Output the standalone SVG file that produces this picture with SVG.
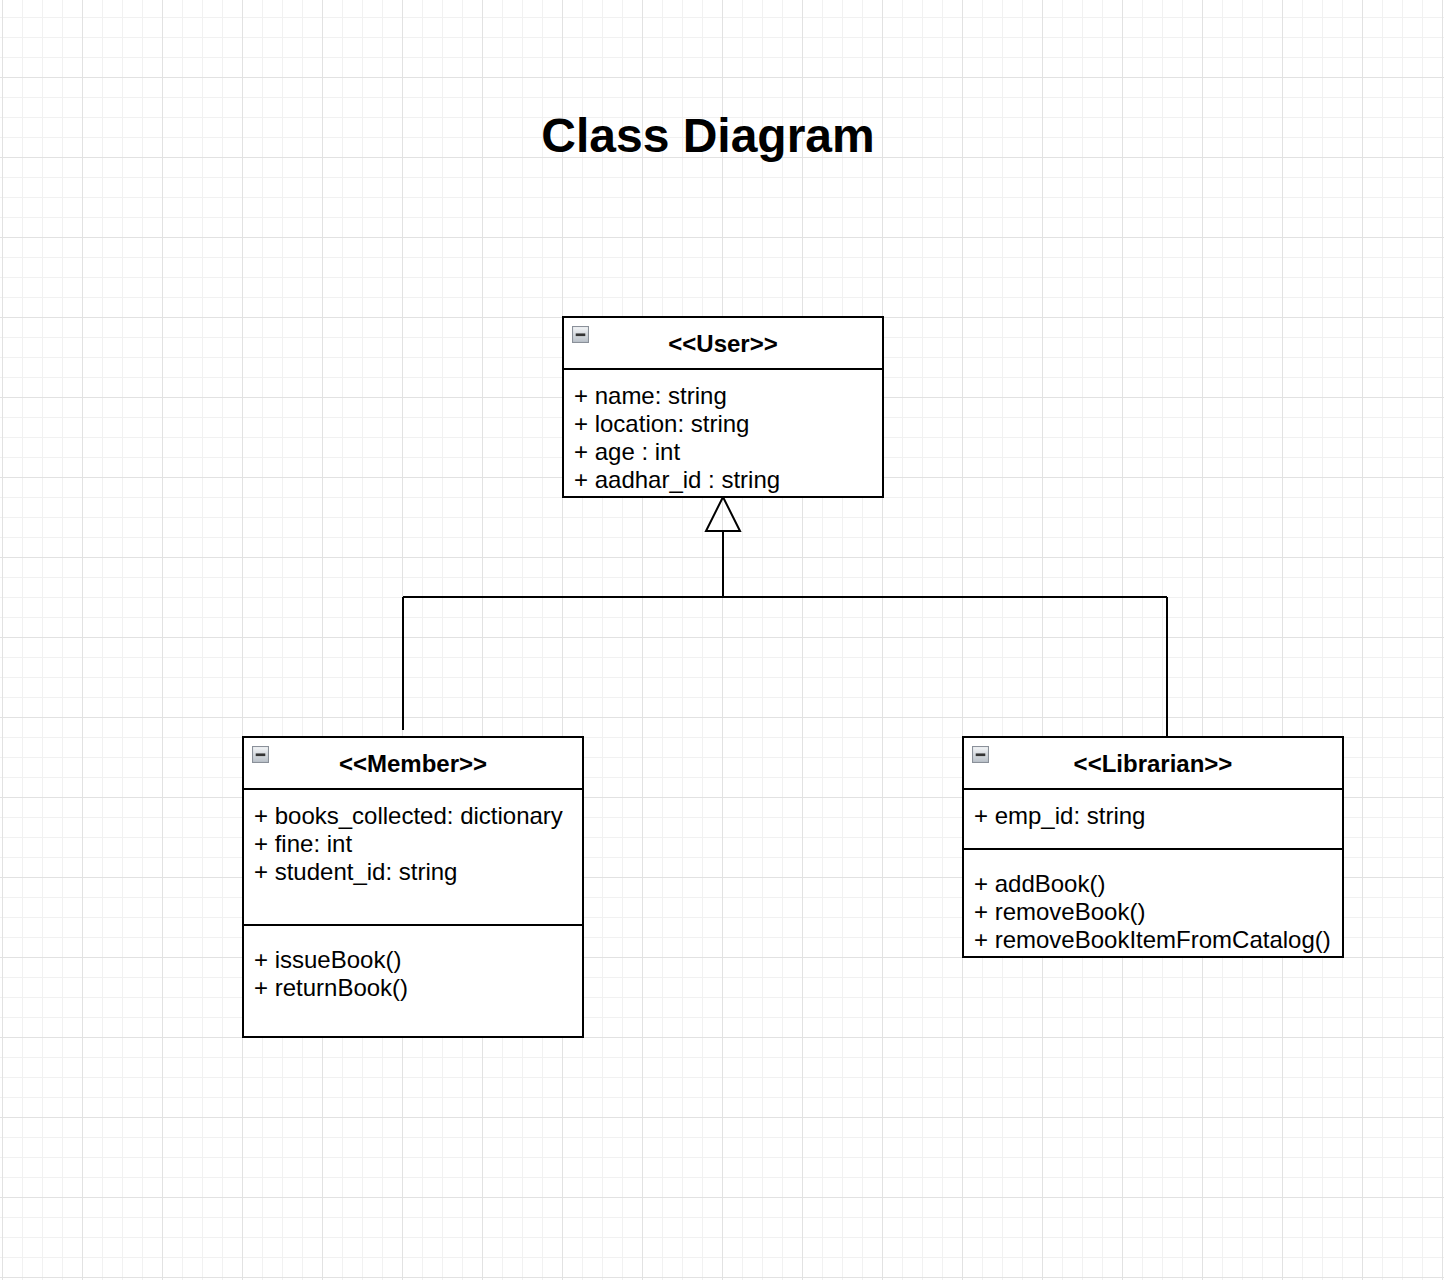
<svg xmlns="http://www.w3.org/2000/svg" width="1444" height="1280" viewBox="0 0 1444 1280">
<style>
.box{fill:#ffffff;stroke:#000000;stroke-width:2}
.div{stroke:#000000;stroke-width:2}
.hdr{font-family:"Liberation Sans",Arial,sans-serif;font-weight:bold;font-size:24px;fill:#000;text-anchor:middle}
.att{font-family:"Liberation Sans",Arial,sans-serif;font-size:24px;fill:#000}
.title{font-family:"Liberation Sans",Arial,sans-serif;font-weight:bold;font-size:48px;fill:#000;text-anchor:middle}
.conn{fill:none;stroke:#000;stroke-width:2}
.ico{fill:url(#icog);stroke:#8a9099;stroke-width:1}
</style>
<defs>
<pattern id="grid" x="2" y="-3" width="80" height="80" patternUnits="userSpaceOnUse">
<path d="M20.5 0V80M40.5 0V80M60.5 0V80M0 20.5H80M0 40.5H80M0 60.5H80" stroke="#f1f1f1" stroke-width="1"/>
<path d="M0.5 0V80M0 0.5H80" stroke="#e2e2e2" stroke-width="1"/>
</pattern>
<linearGradient id="icog" x1="0" y1="0" x2="0" y2="1">
<stop offset="0" stop-color="#f4f6f8"/>
<stop offset="1" stop-color="#b9c0c8"/>
</linearGradient>
<symbol id="collapse" viewBox="0 0 16 16">
<rect x="0.5" y="0.5" width="15" height="15" class="ico"/>
<rect x="3.5" y="7" width="9" height="2.5" fill="#333"/>
</symbol>
</defs>
<rect width="1444" height="1280" fill="#ffffff"/>
<rect width="1444" height="1280" fill="url(#grid)"/>
<text class="title" x="708" y="152">Class Diagram</text>
<g id="connectors">
<path class="conn" d="M723 531V597M403 597H1167M403 597V730M1167 597V737"/>
<polygon class="conn" fill="#fff" points="723,497 706,531 740,531"/>
</g>
<g id="user">
<rect class="box" x="563" y="317" width="320" height="180"/>
<line class="div" x1="563" y1="369" x2="883" y2="369"/>
<use href="#collapse" x="572" y="326" width="17" height="17"/>
<text class="hdr" x="723" y="352">&lt;&lt;User&gt;&gt;</text>
<text class="att" x="574" y="404">+ name: string</text>
<text class="att" x="574" y="432">+ location: string</text>
<text class="att" x="574" y="460">+ age : int</text>
<text class="att" x="574" y="488">+ aadhar_id : string</text>
</g>
<g id="member">
<rect class="box" x="243" y="737" width="340" height="300"/>
<line class="div" x1="243" y1="789" x2="583" y2="789"/>
<line class="div" x1="243" y1="925" x2="583" y2="925"/>
<use href="#collapse" x="252" y="746" width="17" height="17"/>
<text class="hdr" x="413" y="772">&lt;&lt;Member&gt;&gt;</text>
<text class="att" x="254" y="824">+ books_collected: dictionary</text>
<text class="att" x="254" y="852">+ fine: int</text>
<text class="att" x="254" y="880">+ student_id: string</text>
<text class="att" x="254" y="968">+ issueBook()</text>
<text class="att" x="254" y="996">+ returnBook()</text>
</g>
<g id="librarian">
<rect class="box" x="963" y="737" width="380" height="220"/>
<line class="div" x1="963" y1="789" x2="1343" y2="789"/>
<line class="div" x1="963" y1="849" x2="1343" y2="849"/>
<use href="#collapse" x="972" y="746" width="17" height="17"/>
<text class="hdr" x="1153" y="772">&lt;&lt;Librarian&gt;&gt;</text>
<text class="att" x="974" y="824">+ emp_id: string</text>
<text class="att" x="974" y="892">+ addBook()</text>
<text class="att" x="974" y="920">+ removeBook()</text>
<text class="att" x="974" y="948">+ removeBookItemFromCatalog()</text>
</g>
</svg>
